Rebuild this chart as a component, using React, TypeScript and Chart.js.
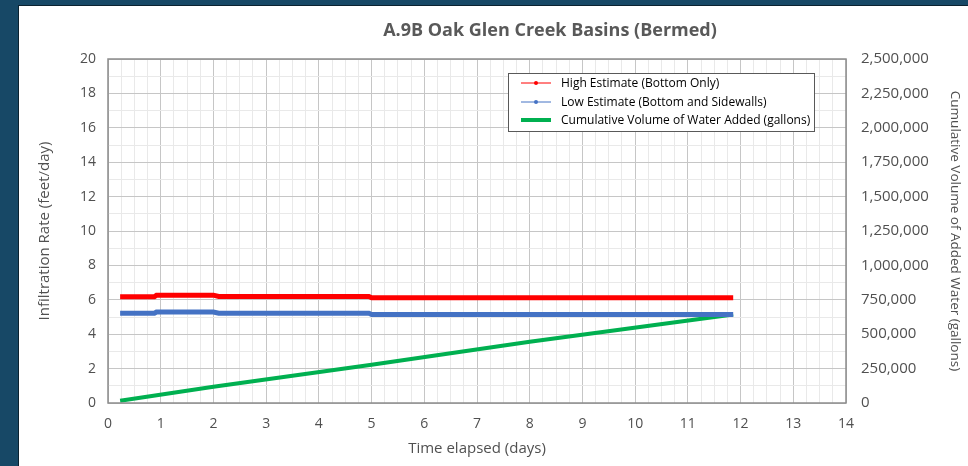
import { useEffect, useRef } from "react";
import { Chart, registerables } from "chart.js";
Chart.register(...registerables);

const TITLE = "A.9B Oak Glen Creek Basins (Bermed)";
const X_TITLE = "Time elapsed (days)";
const Y_TITLE = "Infiltration Rate (feet/day)";
const Y2_TITLE = "Cumulative Volume of Added Water (gallons)";

const SERIES_NAMES = [
  "High Estimate (Bottom Only)",
  "Low Estimate (Bottom and Sidewalls)",
  "Cumulative Volume of Water Added (gallons)",
];

const rateDays = [0.23, 0.88, 0.92, 2.0, 2.1, 4.95, 5.0, 11.86];
const highRate = [6.18, 6.18, 6.27, 6.27, 6.19, 6.19, 6.12, 6.12];
const lowRate = [5.22, 5.22, 5.29, 5.29, 5.22, 5.22, 5.15, 5.15];

const volDays = [0.23, 2.0, 5.0, 8.0, 11.86];
const volGallons = [17000, 118000, 278000, 445000, 643000];

const X_MIN = 0, X_MAX = 14;
const Y_MIN = 0, Y_MAX = 20;
const Y2_MAX = 2500000;

const COLORS = ["#ff0000", "#4472c4", "#00b050"];
const TEXT = "#505050";
const FONT = "'Open Sans', sans-serif";

const overlay = {
  id: "overlay",
  afterDraw(chart: any) {
    const { ctx, chartArea } = chart;
    ctx.save();
    ctx.strokeStyle = "#8c8c8c";
    ctx.lineWidth = 1.5;
    ctx.strokeRect(chartArea.left, chartArea.top, chartArea.right - chartArea.left, chartArea.bottom - chartArea.top);
    ctx.fillStyle = "#595959";
    ctx.font = `bold 18px ${FONT}`;
    ctx.textAlign = "center";
    ctx.textBaseline = "middle";
    ctx.fillText(TITLE, 531, 25);
    const bx = 489, by = 67, bw = 306, bh = 58;
    ctx.fillStyle = "#ffffff";
    ctx.fillRect(bx, by, bw, bh);
    ctx.strokeStyle = "#595959";
    ctx.lineWidth = 1;
    ctx.strokeRect(bx + 0.5, by + 0.5, bw, bh);
    ctx.font = `12px ${FONT}`;
    ctx.textAlign = "left";
    const rows = [77, 96, 114];
    chart.data.datasets.forEach((ds: any, i: number) => {
      const y = by + (rows[i] - 67);
      ctx.strokeStyle = ds.borderColor;
      ctx.lineWidth = i === 2 ? 4 : 1;
      ctx.beginPath();
      ctx.moveTo(bx + 13, y);
      ctx.lineTo(bx + 43, y);
      ctx.stroke();
      if (i < 2) {
        ctx.fillStyle = ds.borderColor;
        ctx.beginPath();
        ctx.arc(bx + 28, y, 2, 0, Math.PI * 2);
        ctx.fill();
      }
      ctx.fillStyle = "#000000";
      ctx.fillText(SERIES_NAMES[i], bx + 53, y + 1);
    });
    ctx.restore();
  },
};

export default function App() {
  const ref = useRef<HTMLCanvasElement>(null);
  useEffect(() => {
    document.body.style.margin = "0";
    const chart = new Chart(ref.current!, {
      type: "line",
      data: {
        datasets: [
          {
            label: SERIES_NAMES[0],
            data: rateDays.map((x, i) => ({ x, y: highRate[i] })),
            borderColor: COLORS[0],
            backgroundColor: COLORS[0],
            borderWidth: 5,
            pointRadius: 0,
            yAxisID: "y",
          },
          {
            label: SERIES_NAMES[1],
            data: rateDays.map((x, i) => ({ x, y: lowRate[i] })),
            borderColor: COLORS[1],
            backgroundColor: COLORS[1],
            borderWidth: 5,
            pointRadius: 0,
            yAxisID: "y",
          },
          {
            label: SERIES_NAMES[2],
            data: volDays.map((x, i) => ({ x, y: volGallons[i] })),
            borderColor: COLORS[2],
            backgroundColor: COLORS[2],
            borderWidth: 4,
            pointRadius: 0,
            yAxisID: "y2",
          },
        ],
      },
      options: {
        animation: false,
        responsive: false,
        layout: { padding: { top: 53, left: 0, right: 0, bottom: 0 } },
        plugins: { legend: { display: false }, tooltip: { enabled: false }, title: { display: false } },
        scales: {
          x: {
            type: "linear",
            min: X_MIN,
            max: X_MAX,
            afterFit: (s: any) => { s.height = 63; },
            ticks: {
              stepSize: 0.25,
              autoSkip: false,
              maxRotation: 0,
              padding: 13,
              color: TEXT,
              font: { family: FONT, size: 14 },
              callback: (v: any) => (Number.isInteger(v) ? String(v) : ""),
            },
            grid: {
              drawTicks: false,
              color: (c: any) => (Number.isInteger(c.tick.value) ? "#c6c6c6" : "#e9e9e9"),
            },
            border: { display: false },
            title: { display: true, text: X_TITLE, color: TEXT, font: { family: FONT, size: 15 }, padding: { top: 0, bottom: 8 } },
          },
          y: {
            position: "left",
            min: Y_MIN,
            max: Y_MAX,
            afterFit: (s: any) => { s.width = 89; },
            ticks: {
              stepSize: 1,
              autoSkip: false,
              padding: 12,
              color: TEXT,
              font: { family: FONT, size: 14 },
              callback: (v: any) => (v % 2 === 0 ? String(v) : ""),
            },
            grid: {
              drawTicks: false,
              color: (c: any) => (c.tick.value % 2 === 0 ? "#c6c6c6" : "#e9e9e9"),
            },
            border: { display: false },
            title: { display: true, text: Y_TITLE, color: TEXT, font: { family: FONT, size: 15 }, padding: { top: 17, bottom: 0 } },
          },
          y2: {
            position: "right",
            min: 0,
            max: Y2_MAX,
            afterFit: (s: any) => { s.width = 122; },
            ticks: {
              stepSize: 250000,
              autoSkip: false,
              padding: 15,
              color: TEXT,
              font: { family: FONT, size: 15 },
              callback: (v: any) => Number(v).toLocaleString("en-US"),
            },
            grid: { display: false, drawTicks: false },
            border: { display: false },
            title: { display: true, text: Y2_TITLE, color: TEXT, font: { family: FONT, size: 13.5 }, padding: { top: 5, bottom: 0 } },
          },
        },
      } as any,
      plugins: [overlay],
    });
    return () => chart.destroy();
  }, []);
  return (
    <div style={{ position: "absolute", left: 0, top: 0, width: 968, height: 466, background: "#174866", overflow: "hidden" }}>
      <div style={{ position: "absolute", left: 18, top: 5, width: 950, height: 461, background: "#ffffff", borderTop: "1px solid #0b2230", borderLeft: "1px solid #0b2230", boxSizing: "border-box" }}>
        <canvas ref={ref} width={949} height={460} style={{ display: "block" }} />
      </div>
    </div>
  );
}
